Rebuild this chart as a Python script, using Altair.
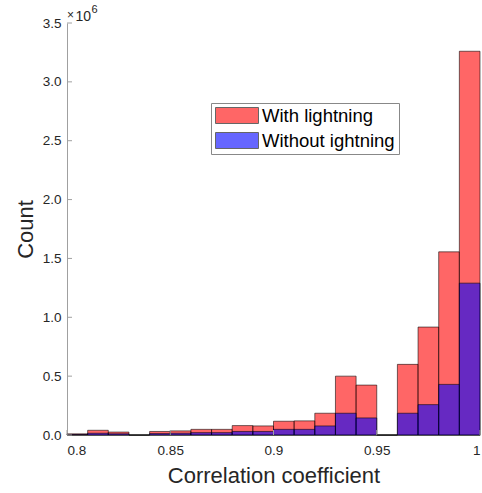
import altair as alt
import pandas as pd

# ---- data ----
bin_edges = [0.80, 0.81, 0.82, 0.83, 0.84, 0.85, 0.86, 0.87, 0.88, 0.89, 0.90,
             0.91, 0.92, 0.93, 0.94, 0.95, 0.96, 0.97, 0.98, 0.99, 1.00]
with_lightning = [0.010e6, 0.040e6, 0.025e6, 0.0, 0.030e6, 0.035e6, 0.048e6, 0.048e6,
                  0.080e6, 0.077e6, 0.117e6, 0.120e6, 0.185e6, 0.500e6, 0.424e6, 0.0,
                  0.600e6, 0.917e6, 1.556e6, 3.260e6]
without_lightning = [0.004e6, 0.015e6, 0.010e6, 0.0, 0.012e6, 0.015e6, 0.020e6, 0.020e6,
                     0.030e6, 0.030e6, 0.048e6, 0.048e6, 0.077e6, 0.185e6, 0.145e6, 0.0,
                     0.185e6, 0.258e6, 0.430e6, 1.290e6]
series_names = ["With lightning", "Without ightning"]
series_colors = ["#FF0000", "#0000FF"]
x_ticks = [0.8, 0.85, 0.9, 0.95, 1.0]
y_ticks = [0, 0.5e6, 1.0e6, 1.5e6, 2.0e6, 2.5e6, 3.0e6, 3.5e6]
exponent_parts = ["×", "10", "6"]

rows = []
for name, vals in zip(series_names, [with_lightning, without_lightning]):
    for i, v in enumerate(vals):
        rows.append({"series": name, "x0": bin_edges[i], "x1": bin_edges[i + 1],
                     "count": v, "base": 0.0})
df = pd.DataFrame(rows)

AXIS_GREY = "#a0a0a0"
TEXT = "#262626"
FONT = "Liberation Sans"

xscale = alt.Scale(domain=[0.8, 1.0], nice=False, zero=False)
yscale = alt.Scale(domain=[0, 3.5e6], nice=False)
xaxis = alt.Axis(values=x_ticks, format="~g", title="Correlation coefficient",
                 ticks=False, labelPadding=8, titlePadding=9)
yaxis = alt.Axis(values=y_ticks, labelExpr="format(datum.value / 1e6, '.1f')",
                 title="Count", ticks=False, labelPadding=6, titlePadding=5)

bars = alt.Chart(df).mark_rect(
    fillOpacity=0.6, stroke="black", strokeWidth=0.8, strokeOpacity=0.7
).encode(
    x=alt.X("x0:Q", scale=xscale, axis=xaxis),
    x2="x1:Q",
    y=alt.Y("count:Q", scale=yscale, axis=yaxis),
    y2="base:Q",
    color=alt.Color("series:N",
                    scale=alt.Scale(domain=series_names, range=series_colors),
                    legend=alt.Legend(
                        title=None, orient="none", legendX=144, legendY=80,
                        symbolType="M-1,-0.372H1V0.372H-1Z", symbolSize=1849,
                        symbolOpacity=0.6, symbolStrokeColor="black", symbolStrokeWidth=1,
                        clipHeight=17, rowPadding=6, labelFontSize=18.5, labelFont=FONT,
                        labelColor="black", labelLimit=300, labelOffset=3,
                        padding=4, strokeColor="#888888", fillColor="white")),
)

ytick = alt.Chart(pd.DataFrame({"v": y_ticks})).mark_rule(color=AXIS_GREY).encode(
    y=alt.Y("v:Q", scale=yscale, axis=yaxis), x=alt.value(0), x2=alt.value(5))
xtick = alt.Chart(pd.DataFrame({"v": x_ticks})).mark_rule(color=AXIS_GREY).encode(
    x=alt.X("v:Q", scale=xscale, axis=xaxis), y=alt.value(412), y2=alt.value(407))

exp_times = alt.Chart(pd.DataFrame({"t": [exponent_parts[0]]})).mark_text(
    font=FONT, fontSize=12, color=TEXT, align="left", baseline="alphabetic"
).encode(text="t:N", x=alt.value(0), y=alt.value(-4))
exp_ten = alt.Chart(pd.DataFrame({"t": [exponent_parts[1]]})).mark_text(
    font=FONT, fontSize=14, color=TEXT, align="left", baseline="alphabetic"
).encode(text="t:N", x=alt.value(8.5), y=alt.value(-2))
exp_six = alt.Chart(pd.DataFrame({"t": [exponent_parts[2]]})).mark_text(
    font=FONT, fontSize=11, color=TEXT, align="left", baseline="alphabetic"
).encode(text="t:N", x=alt.value(24.5), y=alt.value(-10))

chart = alt.layer(bars, ytick, xtick, exp_times, exp_ten, exp_six).properties(
    width=413, height=412,
    autosize=alt.AutoSizeParams(type="none"),
    padding={"left": 67, "top": 23, "right": 2, "bottom": 58},
).configure_view(stroke=None).configure_axis(
    domainColor=AXIS_GREY, grid=False, labelColor=TEXT, labelFont=FONT,
    labelFontSize=13.5, titleFont=FONT, titleFontSize=22, titleColor=TEXT,
    titleFontWeight="normal",
)

chart.save("out.html", embed_options={"renderer": "svg", "actions": False})
